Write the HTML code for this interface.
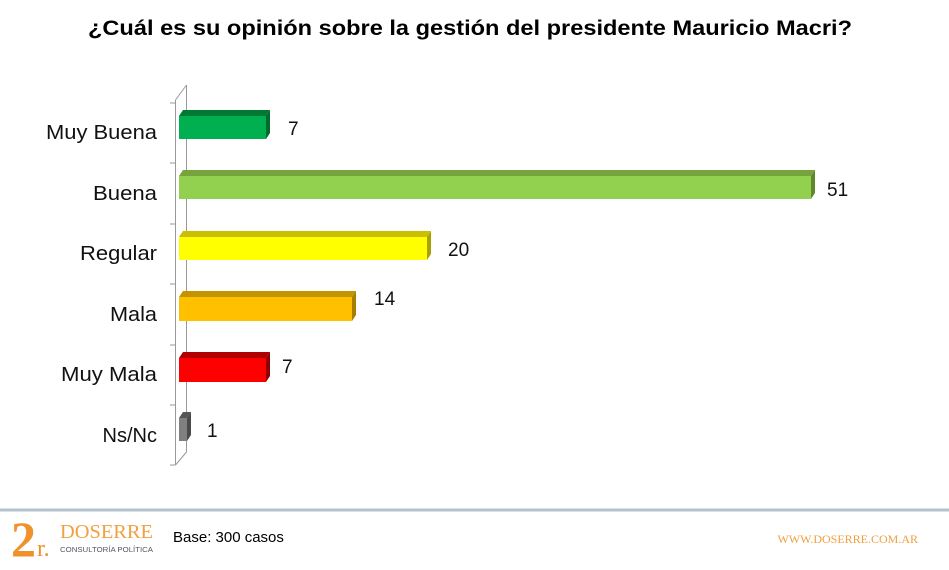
<!DOCTYPE html>
<html><head><meta charset="utf-8"><style>
body{margin:0;background:#fff;width:949px;height:565px;overflow:hidden;font-family:"Liberation Sans",sans-serif}
</style></head><body>
<svg width="949" height="565" xmlns="http://www.w3.org/2000/svg">
<text x="88" y="35" textLength="764" lengthAdjust="spacingAndGlyphs" font-size="21" font-weight="bold" fill="#000" font-family="Liberation Sans, sans-serif">¿Cuál es su opinión sobre la gestión del presidente Mauricio Macri?</text>
<g stroke="#999" stroke-width="1" fill="none">
<line x1="175.5" y1="100" x2="175.5" y2="465"/>
<line x1="186.5" y1="85" x2="186.5" y2="452"/>
<line x1="175.5" y1="100" x2="186.5" y2="85"/>
<line x1="175.5" y1="465" x2="186.5" y2="452"/>
<line x1="170" y1="103" x2="175.5" y2="103"/>
<line x1="170" y1="163" x2="175.5" y2="163"/>
<line x1="170" y1="224" x2="175.5" y2="224"/>
<line x1="170" y1="284" x2="175.5" y2="284"/>
<line x1="170" y1="345" x2="175.5" y2="345"/>
<line x1="170" y1="405" x2="175.5" y2="405"/>
<line x1="170" y1="465" x2="175.5" y2="465"/>
</g>
<g font-size="20" fill="#111">
<text x="46" y="139" textLength="111" lengthAdjust="spacingAndGlyphs">Muy Buena</text>
<text x="93" y="200" textLength="64" lengthAdjust="spacingAndGlyphs">Buena</text>
<text x="80" y="260" textLength="77" lengthAdjust="spacingAndGlyphs">Regular</text>
<text x="110" y="321" textLength="47" lengthAdjust="spacingAndGlyphs">Mala</text>
<text x="61" y="381" textLength="96" lengthAdjust="spacingAndGlyphs">Muy Mala</text>
<text x="157" y="442" text-anchor="end">Ns/Nc</text>
</g>
<g>
<polygon points="179,116 183,110 270,110 266,116" fill="#007a33"/><rect x="179" y="116" width="87" height="23" fill="#00b050"/><polygon points="266,116 270,110 270,133 266,139" fill="#006b2c"/>
<polygon points="179,176 183,170 815,170 811,176" fill="#76a33c"/><rect x="179" y="176" width="632" height="23" fill="#92d050"/><polygon points="811,176 815,170 815,193 811,199" fill="#5f8a2a"/>
<polygon points="179,237 183,231 431,231 427,237" fill="#c8c000"/><rect x="179" y="237" width="248" height="23" fill="#ffff00"/><polygon points="427,237 431,231 431,254 427,260" fill="#a8a200"/>
<polygon points="179,297 183,291 356,291 352,297" fill="#c49400"/><rect x="179" y="297" width="173" height="24" fill="#ffc000"/><polygon points="352,297 356,291 356,315 352,321" fill="#a87e00"/>
<polygon points="179,358 183,352 270,352 266,358" fill="#b00000"/><rect x="179" y="358" width="87" height="24" fill="#ff0000"/><polygon points="266,358 270,352 270,376 266,382" fill="#900000"/>
<polygon points="179,418 183,412 191,412 187,418" fill="#555"/><rect x="179" y="418" width="8" height="23" fill="#808080"/><polygon points="187,418 191,412 191,435 187,441" fill="#4a4a4a"/>
</g>
<g font-size="19" fill="#111">
<text x="288" y="135">7</text>
<text x="827" y="196">51</text>
<text x="448" y="256">20</text>
<text x="374" y="305">14</text>
<text x="282" y="373">7</text>
<text x="207" y="437">1</text>
</g>
<line x1="0" y1="510" x2="949" y2="510" stroke="#b4c2cc" stroke-width="3"/>
<text x="11" y="556" font-size="50" font-weight="bold" fill="#f0922b" font-family="Liberation Serif, serif">2</text>
<text x="37" y="556" font-size="24" fill="#f0922b" font-family="Liberation Serif, serif">r.</text>
<text x="60" y="538" textLength="93" lengthAdjust="spacingAndGlyphs" font-size="20" fill="#f0a040" font-family="Liberation Serif, serif">DOSERRE</text>
<text x="60" y="552" textLength="93" lengthAdjust="spacingAndGlyphs" font-size="7" fill="#556">CONSULTORÍA POLÍTICA</text>
<text x="173" y="542" font-size="15" fill="#000">Base: 300 casos</text>
<text x="918" y="543" font-size="12" fill="#f0a040" text-anchor="end" font-family="Liberation Serif, serif">WWW.DOSERRE.COM.AR</text>
</svg>
</body></html>
